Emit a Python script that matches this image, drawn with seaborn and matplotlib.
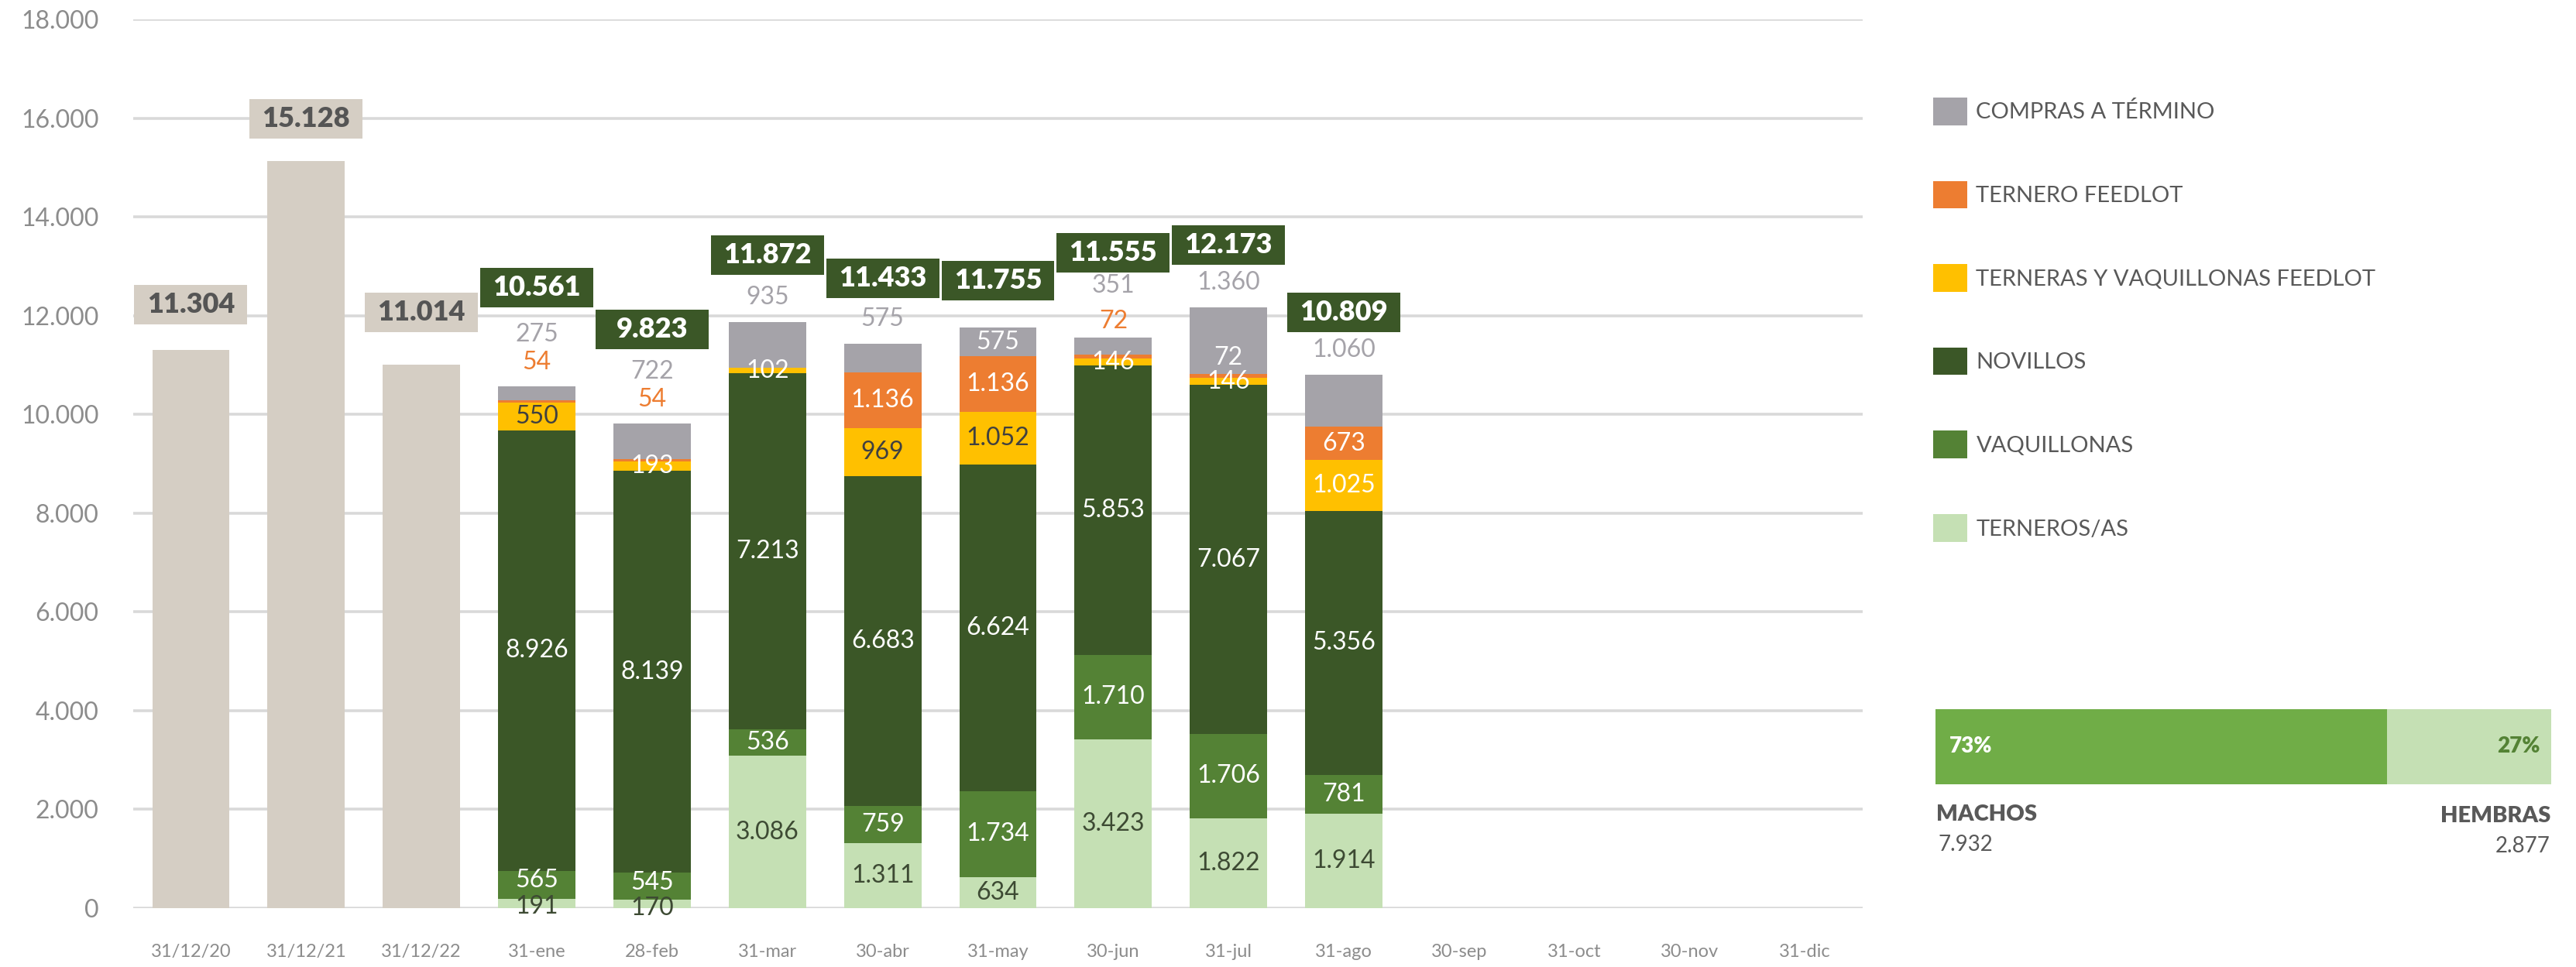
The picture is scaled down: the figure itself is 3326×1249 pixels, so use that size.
import numpy as np
import pandas as pd
import matplotlib
matplotlib.use("Agg")
import matplotlib.pyplot as plt
from matplotlib.patches import Rectangle, Patch
import seaborn as sns

# ---------------- data ----------------
categories = ['31/12/20', '31/12/21', '31/12/22', '31-ene', '28-feb', '31-mar', '30-abr',
              '31-may', '30-jun', '31-jul', '31-ago', '30-sep', '31-oct', '30-nov', '31-dic']
year_cats = ['31/12/20', '31/12/21', '31/12/22']
year_totals = [11304, 15128, 11014]
month_cats = ['31-ene', '28-feb', '31-mar', '30-abr', '31-may', '30-jun', '31-jul', '31-ago']
terneros = [191, 170, 3086, 1311, 634, 3423, 1822, 1914]
vaquillonas = [565, 545, 536, 759, 1734, 1710, 1706, 781]
novillos = [8926, 8139, 7213, 6683, 6624, 5853, 7067, 5356]
terneras_fl = [550, 193, 102, 969, 1052, 146, 146, 1025]
ternero_fl = [54, 54, 0, 1136, 1136, 72, 72, 673]
compras = [275, 722, 935, 575, 575, 351, 1360, 1060]
month_totals = [10561, 9823, 11872, 11433, 11755, 11555, 12173, 10809]
machos = 7932
hembras = 2877
y_ticks = list(range(0, 18001, 2000))
series_names = ['TERNEROS/AS', 'VAQUILLONAS', 'NOVILLOS',
                'TERNERAS Y VAQUILLONAS FEEDLOT', 'TERNERO FEEDLOT', 'COMPRAS A TÉRMINO']

# ---------------- styles / layout ----------------
series_colors = ['#C5E0B4', '#548235', '#3B5727', '#FFC000', '#ED7D31', '#A5A3A9']
year_color = '#D5CEC4'
box_green = '#3B5727'
tick_color = '#8C8C8C'
text_dark = '#595959'
terneros_txt = '#3D4A33'
yellow_txt = ['#404040', 'white', 'white', '#404040', '#404040', 'white', 'white', 'white']
orange_mode = ['above', 'above', None, 'inside', 'inside', 'above', 'ingray', 'inside']
orange_dy = [31, 31, 0, 0, 0, 21, 21, 0]
compras_mode = ['above2', 'above2', 'above', 'above', 'inside', 'above2', 'above', 'above']
terneros_dy = [-4, -5, 0, 0, 0, 0, 0, 0]     # label nudges in pixels
vaquillonas_dy = [6, 5, 0, 0, 0, 0, 0, 0]
year_box_dy = [59, 55, 67]
month_box_dy = [128, 121, 86, 84, 61, 110, 80, 80]
REG = 'normal'

W, H = 3326, 1249
sns.set_theme(style='white')
plt.rcParams['font.family'] = ['Lato', 'DejaVu Sans']

fig = plt.figure(figsize=(W / 100, H / 100), dpi=100)
ax = fig.add_axes([172 / W, 1 - 1173 / H, (2405 - 172) / W, (1173 - 25) / H])

def fmt(v):
    return f'{v:,}'.replace(',', '.')

# year bars
df_y = pd.DataFrame({'cat': year_cats, 'val': year_totals})
sns.barplot(data=df_y, x='cat', y='val', order=categories, color=year_color,
            saturation=1, width=0.67, errorbar=None, ax=ax, zorder=3, linewidth=0)

# stacked month bars (cumulative, drawn from top layer down)
layers = np.array([terneros, vaquillonas, novillos, terneras_fl, ternero_fl, compras])
cum = np.cumsum(layers, axis=0)
for k in reversed(range(len(layers))):
    df = pd.DataFrame({'cat': month_cats, 'val': cum[k]})
    sns.barplot(data=df, x='cat', y='val', order=categories, color=series_colors[k],
                saturation=1, width=0.67, errorbar=None, ax=ax, zorder=3, linewidth=0)

ax.set_xlim(-0.5, len(categories) - 0.5)
ax.set_ylim(0, 18000)
ax.set_xlabel('')
ax.set_ylabel('')
ax.set_yticks(y_ticks)
ax.set_yticklabels([fmt(v) for v in y_ticks])
ax.yaxis.grid(True, color='#D9D9D9', linewidth=2.6)
ax.xaxis.grid(False)
ax.set_axisbelow(True)
for s in ax.spines.values():
    s.set_visible(False)
ax.tick_params(axis='y', length=0, pad=32, labelsize=23, labelcolor=tick_color)
ax.tick_params(axis='x', length=0, pad=33, labelsize=17, labelcolor=tick_color)
for t in ax.get_yticklabels() + ax.get_xticklabels():
    t.set_fontweight(REG)

LBL = 23

def put(x, y, s, color, dy=0, size=LBL, weight=REG):
    ax.annotate(s, (x, y), xytext=(0, dy), textcoords='offset pixels', ha='center',
                va='center', fontsize=size, fontweight=weight, color=color, zorder=6)

for j, cat in enumerate(month_cats):
    x = categories.index(cat)
    bot = cum[:, j] - layers[:, j]
    mid = bot + layers[:, j] / 2
    top = cum[-1, j]
    put(x, mid[0], fmt(terneros[j]), terneros_txt, dy=terneros_dy[j])
    put(x, mid[1], fmt(vaquillonas[j]), 'white', dy=vaquillonas_dy[j])
    put(x, mid[2], fmt(novillos[j]), 'white')
    put(x, mid[3], fmt(terneras_fl[j]), yellow_txt[j])
    m = orange_mode[j]
    if m == 'above':
        put(x, top, fmt(ternero_fl[j]), '#ED7D31', dy=orange_dy[j])
    elif m == 'inside':
        put(x, mid[4], fmt(ternero_fl[j]), 'white')
    elif m == 'ingray':
        put(x, cum[4, j], fmt(ternero_fl[j]), 'white', dy=orange_dy[j])
    c = compras_mode[j]
    if c == 'above':
        put(x, top, fmt(compras[j]), '#A5A3A9', dy=32)
    elif c == 'above2':
        put(x, top, fmt(compras[j]), '#A5A3A9', dy=67)
    else:
        put(x, mid[5], fmt(compras[j]), 'white')

# total boxes
pos = ax.get_position()
upp = 18000 / (pos.height * H)  # data units per pixel
box_w, box_h = 0.98, 51 * upp

def total_box(x, total, dy, fc, tc):
    yc = total + dy * upp
    ax.add_patch(Rectangle((x - box_w / 2, yc - box_h / 2), box_w, box_h, facecolor=fc,
                           edgecolor='none', zorder=5, clip_on=False))
    ax.text(x, yc, fmt(total), ha='center', va='center', fontsize=26, fontweight='heavy',
            color=tc, zorder=6)

for j, cat in enumerate(year_cats):
    total_box(categories.index(cat), year_totals[j], year_box_dy[j], year_color, '#555555')
for j, cat in enumerate(month_cats):
    total_box(categories.index(cat), month_totals[j], month_box_dy[j], box_green, 'white')

# legend
handles = [Patch(facecolor=series_colors[k], edgecolor='none', label=series_names[k])
           for k in reversed(range(len(series_names)))]
fig.legend(handles=handles, loc='upper left', bbox_to_anchor=(2496 / W, 1 - 126 / H),
           frameon=False, prop={'size': 21}, labelcolor=text_dark, handlelength=1.5,
           handleheight=1.5, labelspacing=2.47, handletextpad=0.4, borderpad=0,
           borderaxespad=0)

# machos / hembras bar
ax2 = fig.add_axes([2499 / W, 1 - 1013 / H, (3294 - 2499) / W, (1013 - 916) / H])
tot_sex = machos + hembras
sns.barplot(data=pd.DataFrame({'g': ['s'], 'v': [tot_sex]}), x='v', y='g', orient='h',
            color='#C5E0B4', saturation=1, width=1, errorbar=None, ax=ax2, linewidth=0)
sns.barplot(data=pd.DataFrame({'g': ['s'], 'v': [machos]}), x='v', y='g', orient='h',
            color='#70AD47', saturation=1, width=1, errorbar=None, ax=ax2, linewidth=0)
ax2.set_xlim(0, tot_sex)
ax2.set_ylim(0.5, -0.5)
ax2.axis('off')
pm = round(100 * machos / tot_sex)
ph = 100 - pm
ax2.text(18 / 795, 0.5, f'{pm}%', transform=ax2.transAxes, ha='left', va='center',
         fontsize=20, fontweight='heavy', color='white')
ax2.text(1 - 14 / 795, 0.5, f'{ph}%', transform=ax2.transAxes, ha='right', va='center',
         fontsize=20, fontweight='heavy', color='#548235')

fig.text(2500 / W, 1 - 1052 / H, 'MACHOS', ha='left', va='center', fontsize=21,
         fontweight='heavy', color=text_dark)
fig.text(2502 / W, 1 - 1091 / H, fmt(machos), ha='left', va='center', fontsize=20,
         fontweight=REG, color=text_dark)
fig.text(3293 / W, 1 - 1054 / H, 'HEMBRAS', ha='right', va='center', fontsize=21,
         fontweight='heavy', color=text_dark)
fig.text(3293 / W, 1 - 1093 / H, fmt(hembras), ha='right', va='center', fontsize=20,
         fontweight=REG, color=text_dark)

fig.savefig('out.png', dpi=100, facecolor='white')
